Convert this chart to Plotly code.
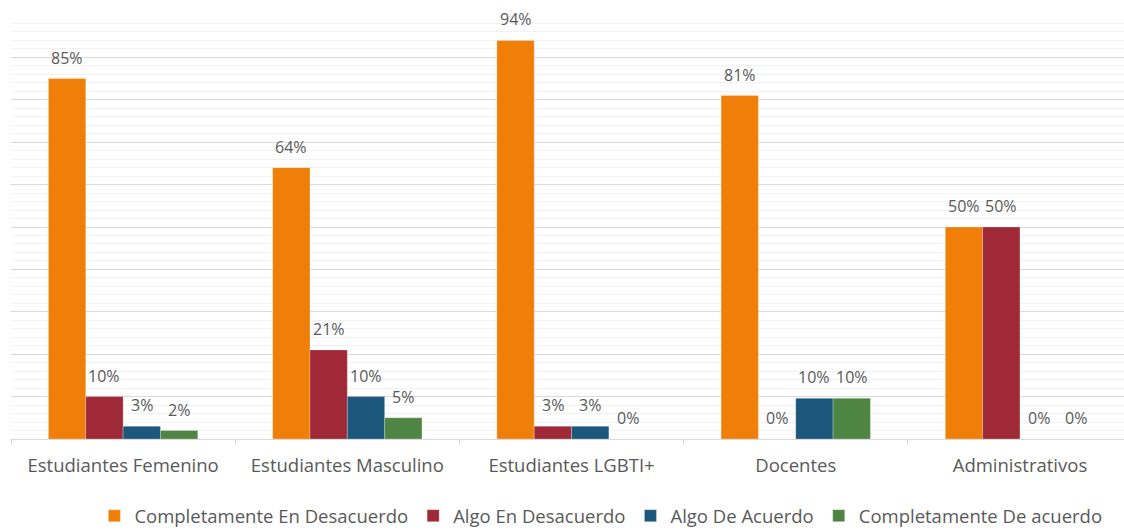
import plotly.graph_objects as go

categories = ["Estudiantes Femenino", "Estudiantes Masculino", "Estudiantes LGBTI+", "Docentes", "Administrativos"]
series_names = ["Completamente En Desacuerdo", "Algo En Desacuerdo", "Algo De Acuerdo", "Completamente De acuerdo"]
completamente_desacuerdo = [0.85, 0.64, 0.94, 0.81, 0.50]
algo_desacuerdo = [0.10, 0.21, 0.03, 0.00, 0.50]
algo_acuerdo = [0.03, 0.10, 0.03, 0.096, 0.00]
completamente_acuerdo = [0.02, 0.05, 0.00, 0.096, 0.00]
colors = ["#F07F09", "#9F2936", "#1B587C", "#4E8542"]

series_values = [completamente_desacuerdo, algo_desacuerdo, algo_acuerdo, completamente_acuerdo]

font_family = "Open Sans, DejaVu Sans, sans-serif"
text_color = "#595959"

fig = go.Figure()
for name, vals, col in zip(series_names, series_values, colors):
    fig.add_trace(go.Bar(
        x=categories, y=vals, name=name,
        marker=dict(color=col, line=dict(color="rgba(255,255,255,0.5)", width=0.5)),
        hoverinfo="skip",
    ))

bargap = 0.334
bw = (1 - bargap) / len(series_values)
annotations = []
for j, vals in enumerate(series_values):
    for i, v in enumerate(vals):
        annotations.append(dict(
            x=i + (j - (len(series_values) - 1) / 2) * bw, y=v, xref="x", yref="y",
            text=f"{round(v * 100):d}%", showarrow=False, yanchor="bottom",
            yshift=8, font=dict(family=font_family, size=16, color=text_color),
        ))

fig.update_layout(
    width=1124, height=530,
    margin=dict(l=11, r=0, t=15, b=91, autoexpand=False),
    paper_bgcolor="white", plot_bgcolor="white",
    barmode="group", bargap=bargap, bargroupgap=0,
    font=dict(family=font_family, color=text_color),
    showlegend=True,
    legend=dict(orientation="h", x=0.53, xanchor="center", y=-0.182, yanchor="middle",
                font=dict(family=font_family, size=18.5, color=text_color),
                itemwidth=30, traceorder="normal"),
    annotations=annotations,
    xaxis=dict(range=[-0.5, 4.464], showline=True, linecolor="#D9D9D9", linewidth=1, automargin=False,
               ticks="outside", tickson="boundaries", ticklen=5, tickcolor="#D9D9D9",
               ticklabelstandoff=10,
               tickfont=dict(family=font_family, size=18.5, color=text_color),
               showgrid=False),
    yaxis=dict(range=[0, 1], dtick=0.1, showticklabels=False, showgrid=True, automargin=False,
               gridcolor="#D9D9D9", gridwidth=1, zeroline=False,
               minor=dict(dtick=0.02, showgrid=True, gridcolor="#F2F2F2", gridwidth=1)),
)

fig.write_html("out.html", config={"displayModeBar": False},
               post_script="document.body.style.margin='0';")
